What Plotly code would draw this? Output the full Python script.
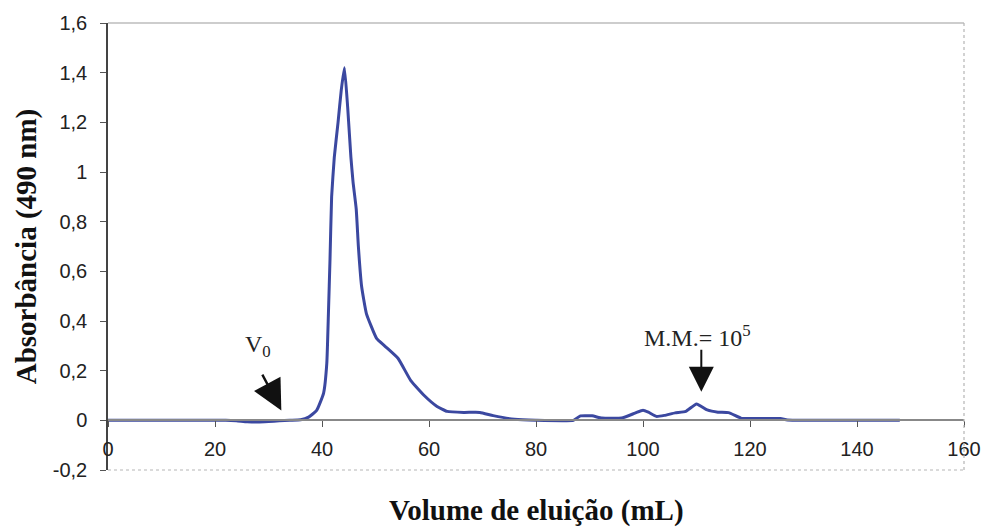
import plotly.graph_objects as go

# Elution volume (mL) and absorbance at 490 nm
volume = [0, 2, 4, 6, 8, 10, 12, 14, 16, 18, 20, 22, 24, 26, 28, 30, 32, 34, 36,
          37.5, 39, 40.3, 40.9, 41.2, 41.5, 41.8, 42.3, 43.0, 43.6, 44.2, 44.8, 45.4,
          45.8, 46.4, 46.8, 47.4, 48.3, 50.2, 51.7, 54.2, 56.6, 59.1, 61.5, 63.4,
          66.5, 69.5, 72, 76, 80, 87, 88.3, 90.5, 92.3, 96, 98.5, 100, 101, 102.5,
          104, 106, 108, 110, 112, 114, 116, 118.3, 120, 125.7, 127, 135, 148]
absorbance = [0, 0, 0, 0, 0, 0, 0, 0, 0, 0, 0, 0, -0.002, -0.006, -0.007, -0.005,
              -0.002, 0.0, 0.002, 0.013, 0.04, 0.11, 0.23, 0.43, 0.65, 0.90, 1.06,
              1.20, 1.33, 1.42, 1.26, 1.06, 0.96, 0.85, 0.70, 0.54, 0.43, 0.33, 0.30,
              0.25, 0.16, 0.10, 0.056, 0.036, 0.032, 0.032, 0.019, 0.004, 0.0, 0.0,
              0.018, 0.018, 0.009, 0.009, 0.029, 0.041, 0.033, 0.016, 0.02, 0.03,
              0.036, 0.066, 0.042, 0.033, 0.031, 0.009, 0.007, 0.007, 0.001, 0.0, 0.0]

x_ticks = [0, 20, 40, 60, 80, 100, 120, 140, 160]
x_ticktext = ["0", "20", "40", "60", "80", "100", "120", "140", "160"]
y_ticks = [-0.2, 0, 0.2, 0.4, 0.6, 0.8, 1.0, 1.2, 1.4, 1.6]
y_ticktext = ["-0,2", "0", "0,2", "0,4", "0,6", "0,8", "1", "1,2", "1,4", "1,6"]

x_range = [0, 160]
y_range = [-0.2, 1.6]
x_axis_pos = (0 - y_range[0]) / (y_range[1] - y_range[0])

fig = go.Figure()
fig.add_trace(go.Scatter(x=volume, y=absorbance, mode="lines",
                         line=dict(color="#3b48a0", width=3, shape="spline", smoothing=0.4),
                         hoverinfo="x+y", showlegend=False))

tick_font = dict(family="Liberation Sans, Arial", size=20, color="#222")
title_font = dict(family="Liberation Serif, Times New Roman", size=29, color="#111")

fig.update_layout(
    width=993, height=531,
    margin=dict(l=108, r=21, t=21, b=61),
    paper_bgcolor="white", plot_bgcolor="white",
    xaxis=dict(range=x_range, tickvals=x_ticks, ticktext=x_ticktext,
               anchor="free", position=x_axis_pos,
               showline=True, linecolor="#888", linewidth=1.5,
               ticks="outside", ticklen=6, tickcolor="#555", tickwidth=1.2,
               ticklabelstandoff=5,
               showgrid=False, zeroline=False, tickfont=tick_font),
    xaxis2=dict(range=x_range, tickvals=x_ticks, overlaying="x",
                anchor="free", position=x_axis_pos, side="bottom",
                showline=False, ticks="inside", ticklen=6, tickcolor="#555",
                tickwidth=1.2, showticklabels=False, showgrid=False, zeroline=False),
    yaxis=dict(range=y_range, tickvals=y_ticks, ticktext=y_ticktext,
               showline=True, linecolor="#444", linewidth=1.5,
               ticks="outside", ticklen=6, tickcolor="#555", tickwidth=1.2,
               ticklabelstandoff=9,
               showgrid=False, zeroline=False, tickfont=tick_font,
               title=dict(text="<b>Absorbância (490 nm)</b>", font=title_font,
                          standoff=8)),
    yaxis2=dict(range=y_range, tickvals=y_ticks, overlaying="y", anchor="x",
                side="left", showline=False, ticks="inside", ticklen=6,
                tickcolor="#555", tickwidth=1.2, showticklabels=False,
                showgrid=False, zeroline=False),
)

# x-axis title (axis itself sits at y = 0, so title is placed under the plot area)
fig.add_annotation(text="<b>Volume de eluição (mL)</b>", xref="paper", yref="paper",
                   x=0.5, y=0, yshift=-40, xanchor="center", yanchor="middle",
                   showarrow=False, font=title_font)

# plot area border (top, right, bottom)
border = dict(color="#b5b5b5", width=1.2, dash="dot")
fig.add_shape(type="line", xref="paper", yref="paper", x0=0, x1=1, y0=1, y1=1, line=dict(color="#bdbdbd", width=1.5))
fig.add_shape(type="line", xref="paper", yref="paper", x0=1, x1=1, y0=0, y1=1, line=border)
fig.add_shape(type="line", xref="paper", yref="paper", x0=0, x1=1, y0=0, y1=0, line=border)

ann_font = dict(family="Liberation Serif, Times New Roman", size=24, color="#222")
# V0 label and arrow
fig.add_annotation(x=28, y=0.30, text="V<sub>0</sub>", showarrow=False, font=ann_font)
fig.add_annotation(x=32.4, y=0.04, ax=28.7, ay=0.19, xref="x", yref="y",
                   axref="x", ayref="y", text="", showarrow=True,
                   arrowhead=2, arrowsize=2.5, arrowwidth=2.4, arrowcolor="#111")
# M.M. label and arrow
fig.add_annotation(x=110.2, y=0.34, text="M.M.= 10<sup>5</sup>", showarrow=False, font=ann_font)
fig.add_annotation(x=110.9, y=0.115, ax=110.9, ay=0.29, xref="x", yref="y",
                   axref="x", ayref="y", text="", showarrow=True,
                   arrowhead=2, arrowsize=2.5, arrowwidth=2.0, arrowcolor="#111")

fig.write_html("out.html")
